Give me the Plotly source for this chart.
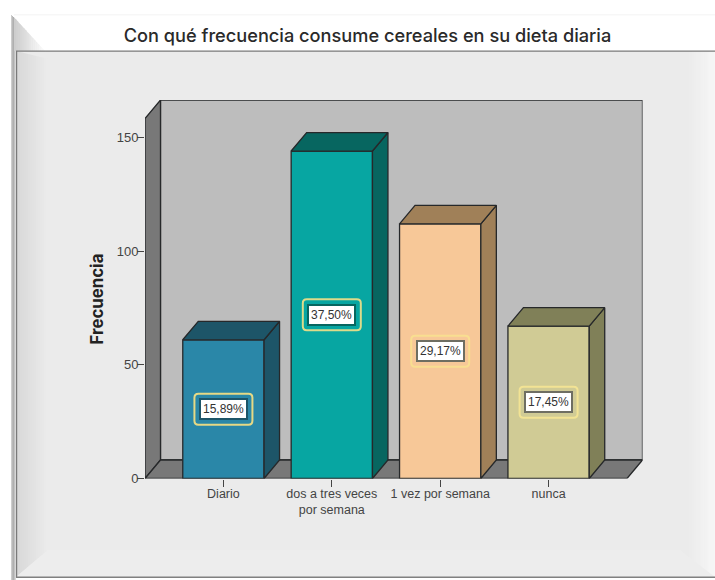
import plotly.graph_objects as go

# ---- data ----
categories = ["Diario", "dos a tres veces<br>por semana", "1 vez por semana", "nunca"]
counts = [61, 144, 112, 67]
pct_labels = ["15,89%", "37,50%", "29,17%", "17,45%"]
y_ticks = [0, 50, 100, 150]

# ---- styles ----
front_colors = ["#2A87A8", "#07A6A2", "#F7C898", "#D0CB95"]
dark_colors = ["#1D5568", "#076660", "#A08058", "#808058"]
box_border = ["#1D5568", "#076660", "#6E6E62", "#6E6E62"]
halo_colors = ["#E6D985", "#DDDB8A", "#F9DE90", "#F2E394"]
W, H = 715, 580
RIGHT = 715
X0_PX, X1_PX = 145.0, 642.5
Y0_PX, Y1_PX = 478.5, 100.0
PX_PER_UNIT_Y = 2.274
XLOW, XHIGH = -0.7235, 3.7235
DX = 0.1429
DY = 8.14
YTOP_FRONT = 158.3
BAR_W = 0.75
OUTLINE = "#26282A"


def px_x(v):
    return v / W


def px_y(v):
    return 1 - v / H


def paper_poly(points, fill, line=None, width=0):
    path = "M " + " L ".join(f"{px_x(a):.5f},{px_y(b):.5f}" for a, b in points) + " Z"
    return dict(type="path", xref="paper", yref="paper", path=path, fillcolor=fill,
                line=dict(color=line or fill, width=width), layer="below")


def grey(v):
    v = int(round(v))
    return f"rgb({v},{v},{v})"


def data_poly(points, fill):
    path = "M " + " L ".join(f"{a:.4f},{b:.3f}" for a, b in points) + " Z"
    return dict(type="path", xref="x", yref="y", path=path, fillcolor=fill,
                line=dict(color=OUTLINE, width=1.3), layer="below")


shapes = []
# frame panel
shapes.append(paper_poly([(16, 51), (RIGHT, 51), (RIGHT, 577), (16, 577)], "#EBEBEB"))
# left bevel strips
n = 16
for i in range(n):
    a = 16 + i * 32 / n
    b = a + 32 / n + 0.4
    shapes.append(paper_poly([(a, 51 + (a - 16) * 0.25), (b, 51 + (b - 16) * 0.25),
                              (b, 577 - (b - 16) * 0.85), (a, 577 - (a - 16) * 0.85)],
                             grey(216 + 19 * i / (n - 1))))
# right bevel strips
for i in range(n):
    a = 687 + i * 28 / n
    b = a + 28 / n + 0.4
    shapes.append(paper_poly([(a, 51), (b, 51), (b, 577), (a, 577)], grey(235 + 11 * i / (n - 1))))
# bottom bevel
shapes.append(paper_poly([(16, 577), (48, 550), (680, 550), (715, 577)], "#EDEDED"))
# outer left strip
for i, g in enumerate([205, 185, 175, 195, 215]):
    shapes.append(paper_poly([(11 + i, 15 + i), (12 + i, 15 + i), (12 + i, 580), (11 + i, 580)], grey(g)))
# top-left corner bevel
for i in range(n):
    a = 14 + i * 31 / n
    b = a + 31 / n + 0.4
    f = lambda v: 15 + (v - 12) * 36 / 33
    shapes.append(paper_poly([(a, f(a)), (b, f(b)), (b, 51), (a, 51)], grey(205 + 46 * i / (n - 1))))
# frame lines
shapes.append(paper_poly([(16, 50.5), (RIGHT, 50.5), (RIGHT, 51.8), (16, 51.8)], "#7A7A7A"))
shapes.append(paper_poly([(16, 51), (17.2, 51), (17.2, 578), (16, 578)], "#7A7A7A"))
shapes.append(paper_poly([(16, 576.6), (RIGHT, 576.6), (RIGHT, 578), (16, 578)], "#808080"))
shapes.append(paper_poly([(14, 14.5), (RIGHT, 14.5), (RIGHT, 15.2), (14, 15.2)], "#EFEFEF"))

# walls and floor
ytop_back = YTOP_FRONT + DY
shapes.append(data_poly([(XLOW + DX, DY), (XHIGH + DX, DY), (XHIGH + DX, ytop_back), (XLOW + DX, ytop_back)], "#BDBDBD"))
shapes.append(data_poly([(XLOW, 0), (XLOW + DX, DY), (XLOW + DX, ytop_back), (XLOW, YTOP_FRONT)], "#787878"))
shapes.append(data_poly([(XLOW, 0), (XHIGH, 0), (XHIGH + DX, DY), (XLOW + DX, DY)], "#787878"))

# halos around the value labels
HW, HH, R = 29, 15.5, 4
halo_path = (f"M {-HW + R},{-HH} L {HW - R},{-HH} Q {HW},{-HH} {HW},{-HH + R} L {HW},{HH - R} "
             f"Q {HW},{HH} {HW - R},{HH} L {-HW + R},{HH} Q {-HW},{HH} {-HW},{HH - R} "
             f"L {-HW},{-HH + R} Q {-HW},{-HH} {-HW + R},{-HH} Z")
for i, v in enumerate(counts):
    shapes.append(dict(type="path", xref="x", yref="y", xsizemode="pixel", ysizemode="pixel",
                       xanchor=i, yanchor=v / 2, path=halo_path,
                       line=dict(color=halo_colors[i], width=2), layer="above"))

fig = go.Figure()
fig.add_trace(go.Bar(x=list(range(len(counts))), y=counts, width=BAR_W,
                     marker=dict(color=front_colors, line=dict(color=OUTLINE, width=1.3)),
                     hoverinfo="skip", showlegend=False))

# side and top faces are derived from the values
for i, v in enumerate(counts):
    l, r = i - BAR_W / 2, i + BAR_W / 2
    fig.add_trace(go.Scatter(x=[r, r + DX, r + DX, r, r], y=[0, DY, v + DY, v, 0],
                             mode="lines", fill="toself", fillcolor=dark_colors[i],
                             line=dict(color=OUTLINE, width=1.3), hoverinfo="skip", showlegend=False))
    fig.add_trace(go.Scatter(x=[l, l + DX, r + DX, r, l], y=[v, v + DY, v + DY, v, v],
                             mode="lines", fill="toself", fillcolor=dark_colors[i],
                             line=dict(color=OUTLINE, width=1.3), hoverinfo="skip", showlegend=False))

annotations = [
    dict(text=pct_labels[i], x=i, y=v / 2, xref="x", yref="y", showarrow=False,
         font=dict(family="Liberation Sans", size=12, color="#333333"), bgcolor="#FFFFFF",
         bordercolor=box_border[i], borderwidth=2, borderpad=2)
    for i, v in enumerate(counts)
]
annotations.append(dict(text="<b>Frecuencia</b>", x=px_x(97), y=px_y(299.5), xref="paper", yref="paper",
                        xanchor="center", yanchor="middle", showarrow=False, textangle=-90,
                        font=dict(family="Inter", size=16.8, color="#222222")))

fig.update_layout(
    width=W, height=H, margin=dict(l=0, r=0, t=0, b=0, autoexpand=False),
    paper_bgcolor="#FFFFFF", plot_bgcolor="rgba(0,0,0,0)", showlegend=False,
    title=dict(text="Con qué frecuencia consume cereales en su dieta diaria",
               x=px_x(367.5), xanchor="center", y=px_y(36), yanchor="middle",
               font=dict(family="Inter", size=18.2, weight=500, color="#2A2A2A")),
    xaxis=dict(domain=[px_x(X0_PX), px_x(X1_PX)], range=[XLOW, XHIGH + DX],
               tickmode="array", tickvals=list(range(len(categories))), ticktext=categories,
               ticks="outside", ticklen=7, tickwidth=1, tickcolor="#444444", tickangle=0,
               ticklabelstandoff=-4,
               showgrid=False, zeroline=False, showline=False,
               tickfont=dict(family="Liberation Sans", size=12.5, color="#444444")),
    yaxis=dict(domain=[px_y(Y0_PX), px_y(Y1_PX)], range=[0, (Y0_PX - Y1_PX) / PX_PER_UNIT_Y],
               tickmode="array", tickvals=y_ticks, ticktext=[str(t) for t in y_ticks],
               ticks="outside", ticklen=7, tickwidth=1, tickcolor="#444444",
               ticklabelstandoff=-4,
               showgrid=False, zeroline=False, showline=False,
               tickfont=dict(family="Liberation Sans", size=13, color="#444444")),
    shapes=shapes, annotations=annotations, bargap=0.25,
)
fig.write_html("out.html", config={"displayModeBar": False},
               post_script="document.body.style.margin='0';")
